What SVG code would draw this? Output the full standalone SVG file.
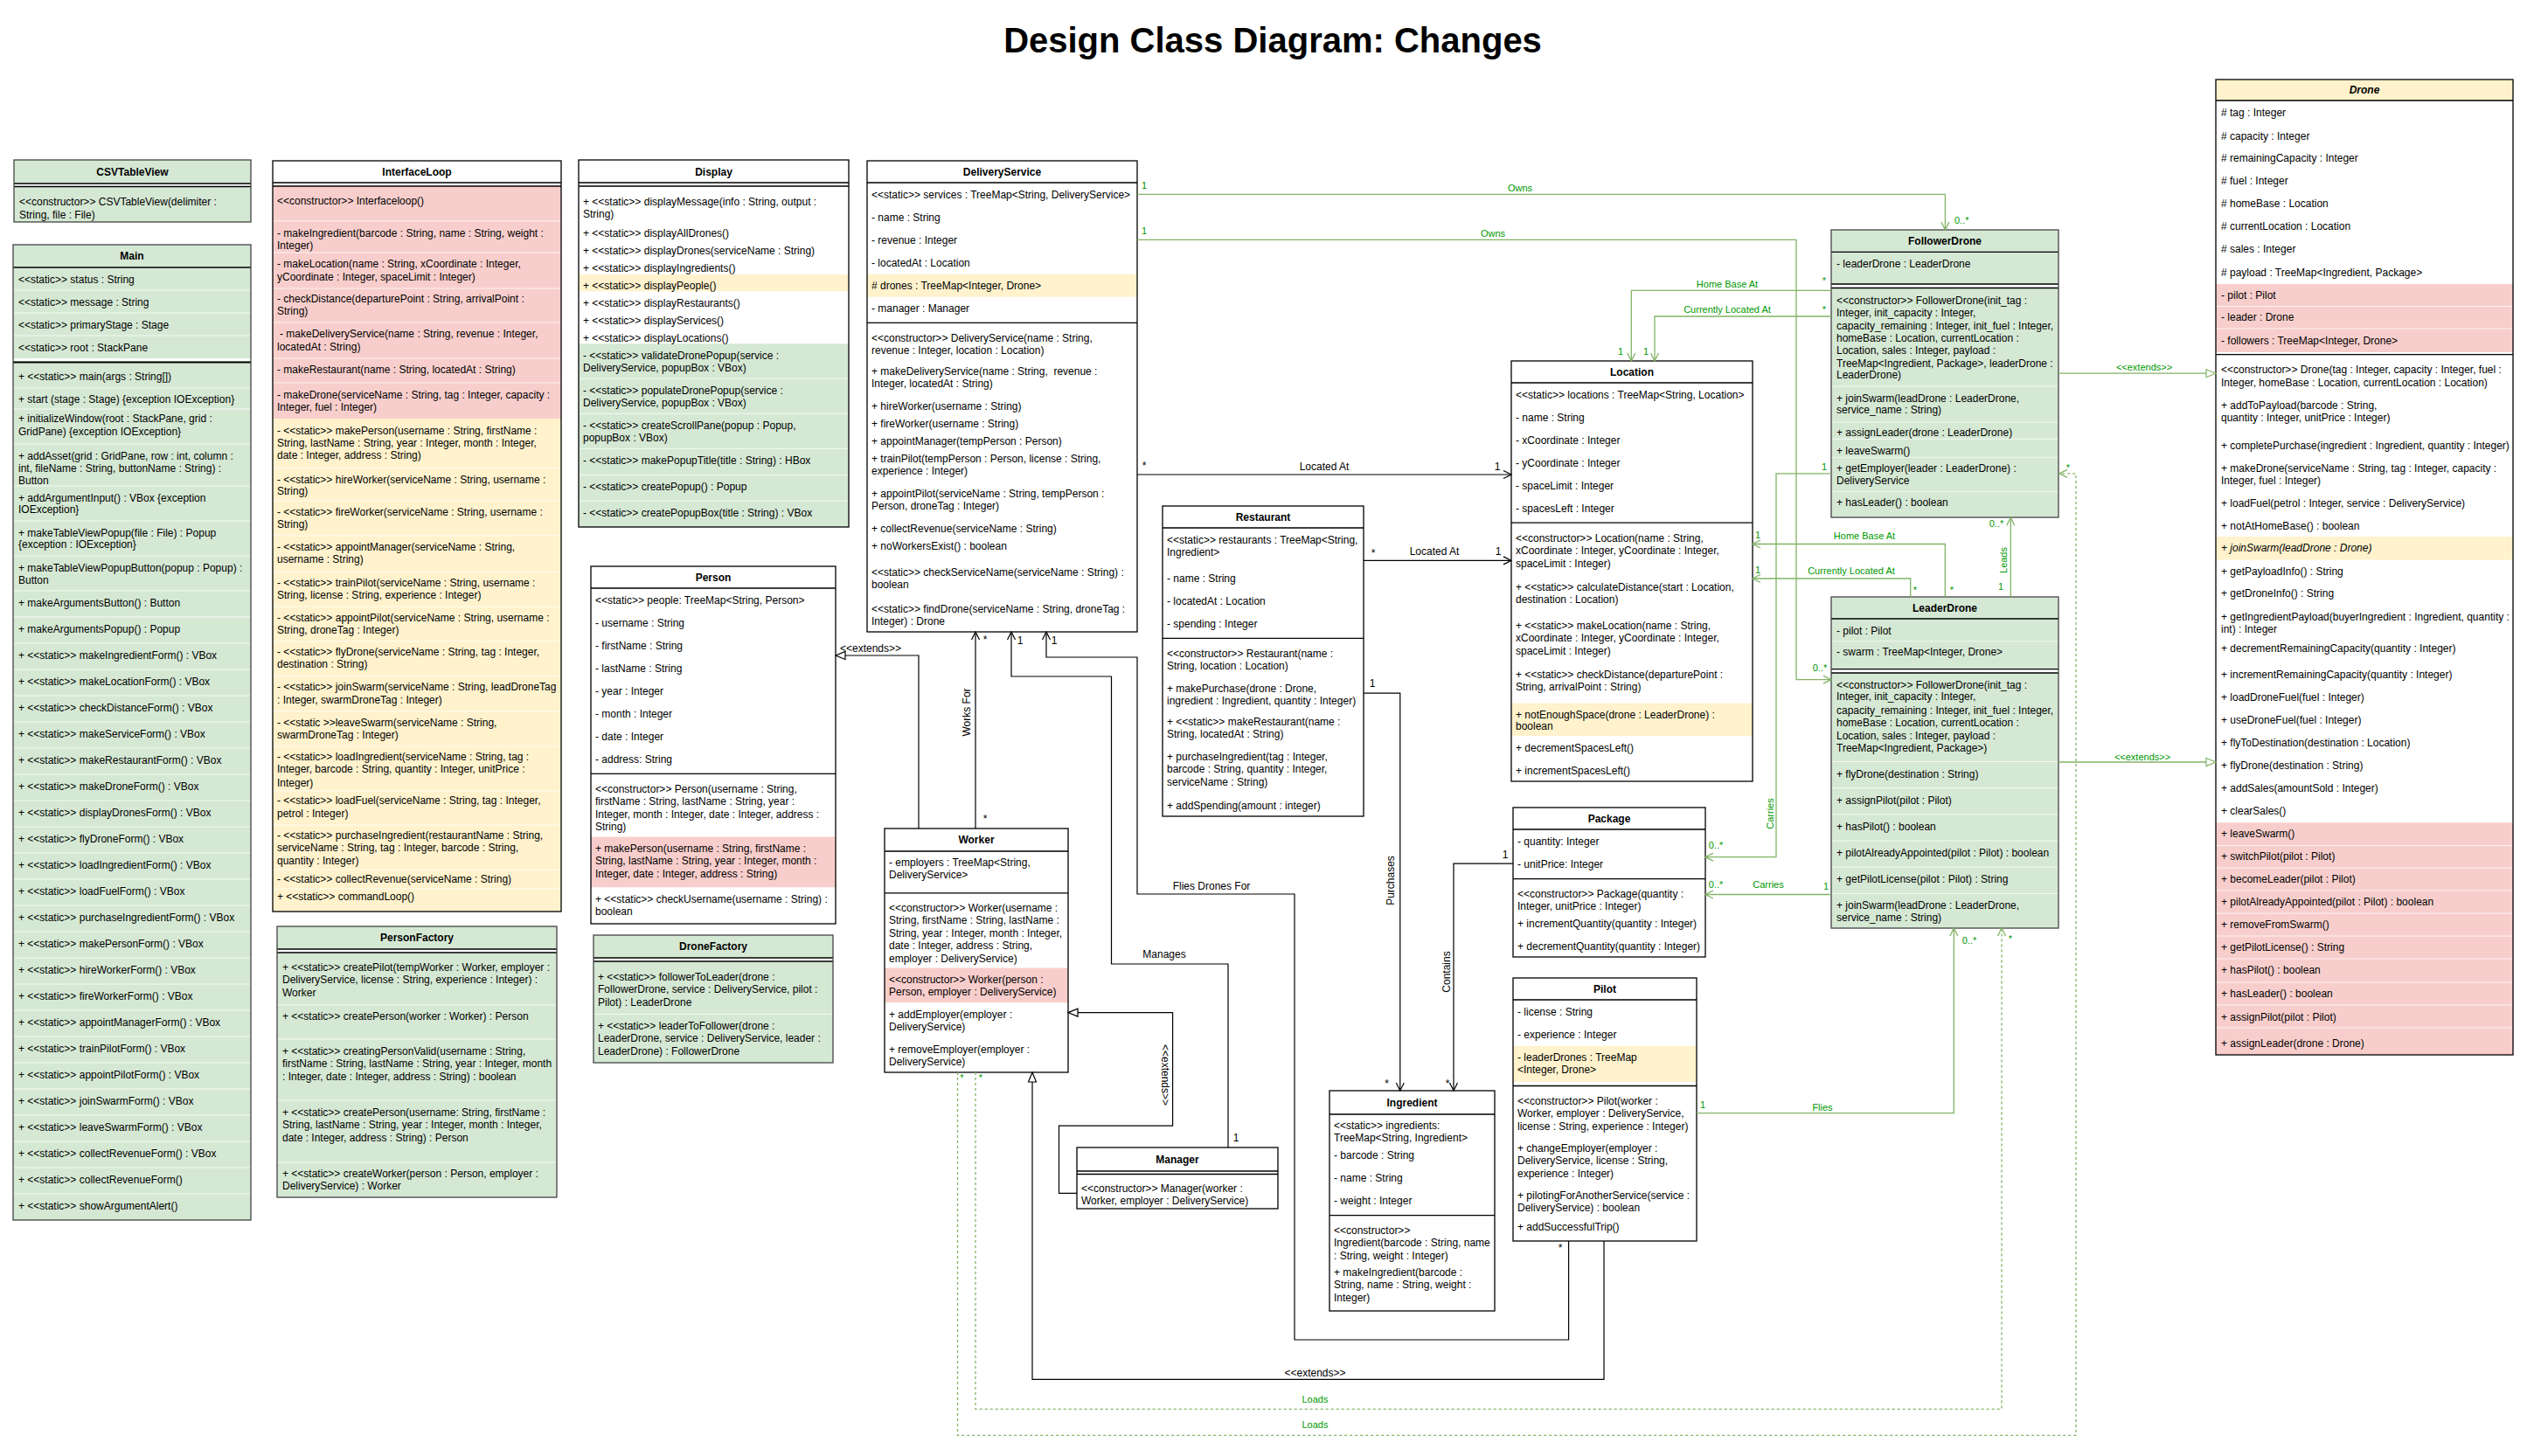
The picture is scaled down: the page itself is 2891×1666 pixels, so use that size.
<svg xmlns="http://www.w3.org/2000/svg" width="2891" height="1666" viewBox="0 0 2891 1666">
<defs>
<style>
text{font-family:"Liberation Sans",Arial,Helvetica,sans-serif;font-size:12px;fill:#000}
.h{font-weight:bold;text-anchor:middle}
.m{text-anchor:middle}
.it{font-style:italic}
.g{fill:#d5e8d4}.p{fill:#f8cecc}.y{fill:#fff2cc}.w{fill:#fff}
.bx{fill:none;stroke:#000;stroke-width:1.3}
.bg{fill:none;stroke:#444;stroke-width:1.3}
.l{stroke:#000;stroke-width:1.3;fill:none}
.s{stroke:#fff;stroke-width:1;stroke-opacity:.75;fill:none}
.gc{fill:none;stroke:#82b366;stroke-width:1.3}
.bc{fill:none;stroke:#000;stroke-width:1.2}
.d{stroke-dasharray:3 3}
.gt{fill:#009900;font-size:11px}
</style>
<marker id="ao" viewBox="0 0 12 12" refX="11" refY="6" markerWidth="12" markerHeight="12" markerUnits="userSpaceOnUse" orient="auto"><path d="M2,1.5 L11,6 L2,10.5" fill="none" stroke="#000" stroke-width="1.2"/></marker>
<marker id="ag" viewBox="0 0 12 12" refX="11" refY="6" markerWidth="12" markerHeight="12" markerUnits="userSpaceOnUse" orient="auto"><path d="M2,1.5 L11,6 L2,10.5" fill="none" stroke="#82b366" stroke-width="1.3"/></marker>
<marker id="tb" viewBox="0 0 14 14" refX="13" refY="7" markerWidth="14" markerHeight="14" markerUnits="userSpaceOnUse" orient="auto"><path d="M2,2.5 L13,7 L2,11.5 Z" fill="#fff" stroke="#000" stroke-width="1.2"/></marker>
<marker id="tg" viewBox="0 0 14 14" refX="13" refY="7" markerWidth="14" markerHeight="14" markerUnits="userSpaceOnUse" orient="auto"><path d="M2,2.5 L13,7 L2,11.5 Z" fill="#fff" stroke="#82b366" stroke-width="1.2"/></marker>
</defs>
<rect x="0" y="0" width="2891" height="1666" fill="#fff"/>
<text x="1456" y="60" style="font-size:40px;font-weight:bold" text-anchor="middle">Design Class Diagram: Changes</text>

<g id="csvtableview">
<rect class="g" x="16" y="183" width="271" height="71"/>
<rect class="w" x="16" y="210" width="271" height="3.5"/>
<path class="l" d="M16,210H287M16,213.5H287"/>
<rect class="bg" x="16" y="183" width="271" height="71"/>
<text class="h" x="151.5" y="200.5">CSVTableView</text>
<text x="22" y="235">&lt;&lt;constructor&gt;&gt; CSVTableView(delimiter :</text>
<text x="22" y="249.5">String, file : File)</text>
</g>

<g id="main">
<rect class="g" x="15" y="280" width="272" height="1116"/>
<path class="s" d="M15,332H287M15,358H287M15,384H287M15,444H287M15,468H287M15,508H287M15,556H287M15,596H287M15,636H287M15,676H287M15,706H287M15,736H287M15,766H287M15,796H287M15,826H287M15,856H287M15,886H287M15,916H287M15,946H287M15,976H287M15,1006H287M15,1036H287M15,1066H287M15,1096H287M15,1126H287M15,1156H287M15,1186H287M15,1216H287M15,1246H287M15,1276H287M15,1306H287M15,1336H287M15,1366H287"/>
<rect class="w" x="15" y="410" width="272" height="3"/>
<path class="l" d="M15,306H287"/>
<path d="M15,414.5H287" stroke="#000" stroke-width="2"/>
<rect class="bg" x="15" y="280" width="272" height="1116"/>
<text class="h" x="151" y="297">Main</text>
<text x="21" y="323.5">&lt;&lt;static&gt;&gt; status : String</text>
<text x="21" y="349.5">&lt;&lt;static&gt;&gt; message : String</text>
<text x="21" y="375.5">&lt;&lt;static&gt;&gt; primaryStage : Stage</text>
<text x="21" y="401.5">&lt;&lt;static&gt;&gt; root : StackPane</text>
<text x="21" y="435">+ &lt;&lt;static&gt;&gt; main(args : String[])</text>
<text x="21" y="461">+ start (stage : Stage) {exception IOException}</text>
<text x="21" y="483">+ initializeWindow(root : StackPane, grid :</text>
<text x="21" y="498">GridPane) {exception IOException}</text>
<text x="21" y="526">+ addAsset(grid : GridPane, row : int, column :</text>
<text x="21" y="540">int, fileName : String, buttonName : String) :</text>
<text x="21" y="554">Button</text>
<text x="21" y="574">+ addArgumentInput() : VBox {exception</text>
<text x="21" y="587">IOException}</text>
<text x="21" y="614">+ makeTableViewPopup(file : File) : Popup</text>
<text x="21" y="627">{exception : IOException}</text>
<text x="21" y="654">+ makeTableViewPopupButton(popup : Popup) :</text>
<text x="21" y="668">Button</text>
<text x="21" y="694">+ makeArgumentsButton() : Button</text>
<text x="21" y="724">+ makeArgumentsPopup() : Popup</text>
<text x="21" y="754">+ &lt;&lt;static&gt;&gt; makeIngredientForm() : VBox</text>
<text x="21" y="784">+ &lt;&lt;static&gt;&gt; makeLocationForm() : VBox</text>
<text x="21" y="814">+ &lt;&lt;static&gt;&gt; checkDistanceForm() : VBox</text>
<text x="21" y="844">+ &lt;&lt;static&gt;&gt; makeServiceForm() : VBox</text>
<text x="21" y="874">+ &lt;&lt;static&gt;&gt; makeRestaurantForm() : VBox</text>
<text x="21" y="904">+ &lt;&lt;static&gt;&gt; makeDroneForm() : VBox</text>
<text x="21" y="934">+ &lt;&lt;static&gt;&gt; displayDronesForm() : VBox</text>
<text x="21" y="964">+ &lt;&lt;static&gt;&gt; flyDroneForm() : VBox</text>
<text x="21" y="994">+ &lt;&lt;static&gt;&gt; loadIngredientForm() : VBox</text>
<text x="21" y="1024">+ &lt;&lt;static&gt;&gt; loadFuelForm() : VBox</text>
<text x="21" y="1054">+ &lt;&lt;static&gt;&gt; purchaseIngredientForm() : VBox</text>
<text x="21" y="1084">+ &lt;&lt;static&gt;&gt; makePersonForm() : VBox</text>
<text x="21" y="1114">+ &lt;&lt;static&gt;&gt; hireWorkerForm() : VBox</text>
<text x="21" y="1144">+ &lt;&lt;static&gt;&gt; fireWorkerForm() : VBox</text>
<text x="21" y="1174">+ &lt;&lt;static&gt;&gt; appointManagerForm() : VBox</text>
<text x="21" y="1204">+ &lt;&lt;static&gt;&gt; trainPilotForm() : VBox</text>
<text x="21" y="1234">+ &lt;&lt;static&gt;&gt; appointPilotForm() : VBox</text>
<text x="21" y="1264">+ &lt;&lt;static&gt;&gt; joinSwarmForm() : VBox</text>
<text x="21" y="1294">+ &lt;&lt;static&gt;&gt; leaveSwarmForm() : VBox</text>
<text x="21" y="1324">+ &lt;&lt;static&gt;&gt; collectRevenueForm() : VBox</text>
<text x="21" y="1354">+ &lt;&lt;static&gt;&gt; collectRevenueForm()</text>
<text x="21" y="1384">+ &lt;&lt;static&gt;&gt; showArgumentAlert()</text>
</g>

<g id="interfaceloop">
<rect class="w" x="312" y="184" width="330" height="29"/>
<rect class="p" x="312" y="213" width="330" height="266"/>
<rect class="y" x="312" y="479" width="330" height="564"/>
<path class="s" d="M312,253H642M312,289H642M312,330H642M312,369H642M312,410H642M312,438H642M312,535H642M312,573H642M312,613H642M312,654H642M312,694H642M312,734H642M312,773H642M312,814H642M312,854H642M312,905H642M312,944H642M312,995H642M312,1017H642"/>
<path class="l" d="M312,209H642M312,213H642"/>
<rect class="bx" x="312" y="184" width="330" height="859"/>
<text class="h" x="477" y="200.5">InterfaceLoop</text>
<text x="317" y="234">&lt;&lt;constructor&gt;&gt; Interfaceloop()</text>
<text x="317" y="270.5">- makeIngredient(barcode : String, name : String, weight :</text>
<text x="317" y="284.5">Integer)</text>
<text x="317" y="306.4">- makeLocation(name : String, xCoordinate : Integer,</text>
<text x="317" y="320.5">yCoordinate : Integer, spaceLimit : Integer)</text>
<text x="317" y="346">- checkDistance(departurePoint : String, arrivalPoint :</text>
<text x="317" y="360">String)</text>
<text x="320" y="386">- makeDeliveryService(name : String, revenue : Integer,</text>
<text x="317" y="401">locatedAt : String)</text>
<text x="317" y="426.5">- makeRestaurant(name : String, locatedAt : String)</text>
<text x="317" y="456">- makeDrone(serviceName : String, tag : Integer, capacity :</text>
<text x="317" y="470">Integer, fuel : Integer)</text>
<text x="317" y="496.7">- &lt;&lt;static&gt;&gt; makePerson(username : String, firstName :</text>
<text x="317" y="510.7">String, lastName : String, year : Integer, month : Integer,</text>
<text x="317" y="525.3">date : Integer, address : String)</text>
<text x="317" y="552.8">- &lt;&lt;static&gt;&gt; hireWorker(serviceName : String, username :</text>
<text x="317" y="566">String)</text>
<text x="317" y="590">- &lt;&lt;static&gt;&gt; fireWorker(serviceName : String, username :</text>
<text x="317" y="604">String)</text>
<text x="317" y="630">- &lt;&lt;static&gt;&gt; appointManager(serviceName : String,</text>
<text x="317" y="644">username : String)</text>
<text x="317" y="670.6">- &lt;&lt;static&gt;&gt; trainPilot(serviceName : String, username :</text>
<text x="317" y="684.7">String, license : String, experience : Integer)</text>
<text x="317" y="710.5">- &lt;&lt;static&gt;&gt; appointPilot(serviceName : String, username :</text>
<text x="317" y="724.5">String, droneTag : Integer)</text>
<text x="317" y="750">- &lt;&lt;static&gt;&gt; flyDrone(serviceName : String, tag : Integer,</text>
<text x="317" y="764">destination : String)</text>
<text x="317" y="790">- &lt;&lt;static&gt;&gt; joinSwarm(serviceName : String, leadDroneTag</text>
<text x="317" y="805">: Integer, swarmDroneTag : Integer)</text>
<text x="317" y="830.6">- &lt;&lt;static &gt;&gt;leaveSwarm(serviceName : String,</text>
<text x="317" y="844.6">swarmDroneTag : Integer)</text>
<text x="317" y="870">- &lt;&lt;static&gt;&gt; loadIngredient(serviceName : String, tag :</text>
<text x="317" y="884">Integer, barcode : String, quantity : Integer, unitPrice :</text>
<text x="317" y="899.6">Integer)</text>
<text x="317" y="920">- &lt;&lt;static&gt;&gt; loadFuel(serviceName : String, tag : Integer,</text>
<text x="317" y="935">petrol : Integer)</text>
<text x="317" y="960">- &lt;&lt;static&gt;&gt; purchaseIngredient(restaurantName : String,</text>
<text x="317" y="974">serviceName : String, tag : Integer, barcode : String,</text>
<text x="317" y="989">quantity : Integer)</text>
<text x="317" y="1010">- &lt;&lt;static&gt;&gt; collectRevenue(serviceName : String)</text>
<text x="317" y="1030">+ &lt;&lt;static&gt;&gt; commandLoop()</text>
</g>

<g id="personfactory">
<rect class="g" x="317" y="1060" width="320" height="310"/>
<rect class="w" x="317" y="1086" width="320" height="4"/>
<path class="s" d="M317,1150H637M317,1189H637M317,1259H637M317,1330H637"/>
<path class="l" d="M317,1086H637M317,1090H637"/>
<rect class="bg" x="317" y="1060" width="320" height="310"/>
<text class="h" x="477" y="1077">PersonFactory</text>
<text x="323" y="1110.7">+ &lt;&lt;static&gt;&gt; createPilot(tempWorker : Worker, employer :</text>
<text x="323" y="1124.9">DeliveryService, license : String, experience : Integer) :</text>
<text x="323" y="1139.5">Worker</text>
<text x="323" y="1167">+ &lt;&lt;static&gt;&gt; createPerson(worker : Worker) : Person</text>
<text x="323" y="1207">+ &lt;&lt;static&gt;&gt; creatingPersonValid(username : String,</text>
<text x="323" y="1221">firstName : String, lastName : String, year : Integer, month</text>
<text x="323" y="1235.8">: Integer, date : Integer, address : String) : boolean</text>
<text x="323" y="1277">+ &lt;&lt;static&gt;&gt; createPerson(username: String, firstName :</text>
<text x="323" y="1291">String, lastName : String, year : Integer, month : Integer,</text>
<text x="323" y="1305.6">date : Integer, address : String) : Person</text>
<text x="323" y="1346.7">+ &lt;&lt;static&gt;&gt; createWorker(person : Person, employer :</text>
<text x="323" y="1360.8">DeliveryService) : Worker</text>
</g>

<g id="display">
<rect class="w" x="662" y="183" width="309" height="210"/>
<rect class="y" x="662" y="314" width="309" height="19.3"/>
<rect class="g" x="662" y="393.3" width="309" height="209.7"/>
<path class="s" d="M662,433.3H971M662,473.3H971M662,513.3H971M662,543.3H971M662,573.3H971"/>
<path class="l" d="M662,209H971M662,213H971"/>
<rect class="bx" x="662" y="183" width="309" height="420"/>
<text class="h" x="816.5" y="200.5">Display</text>
<text x="667" y="235">+ &lt;&lt;static&gt;&gt; displayMessage(info : String, output :</text>
<text x="667" y="249">String)</text>
<text x="667" y="271">+ &lt;&lt;static&gt;&gt; displayAllDrones()</text>
<text x="667" y="291">+ &lt;&lt;static&gt;&gt; displayDrones(serviceName : String)</text>
<text x="667" y="310.7">+ &lt;&lt;static&gt;&gt; displayIngredients()</text>
<text x="667" y="330.7">+ &lt;&lt;static&gt;&gt; displayPeople()</text>
<text x="667" y="350.7">+ &lt;&lt;static&gt;&gt; displayRestaurants()</text>
<text x="667" y="370.7">+ &lt;&lt;static&gt;&gt; displayServices()</text>
<text x="667" y="390.7">+ &lt;&lt;static&gt;&gt; displayLocations()</text>
<text x="667" y="411">- &lt;&lt;static&gt;&gt; validateDronePopup(service :</text>
<text x="667" y="424.7">DeliveryService, popupBox : VBox)</text>
<text x="667" y="451">- &lt;&lt;static&gt;&gt; populateDronePopup(service :</text>
<text x="667" y="464.7">DeliveryService, popupBox : VBox)</text>
<text x="667" y="490.7">- &lt;&lt;static&gt;&gt; createScrollPane(popup : Popup,</text>
<text x="667" y="505">popupBox : VBox)</text>
<text x="667" y="530.7">- &lt;&lt;static&gt;&gt; makePopupTitle(title : String) : HBox</text>
<text x="667" y="560.7">- &lt;&lt;static&gt;&gt; createPopup() : Popup</text>
<text x="667" y="590.7">- &lt;&lt;static&gt;&gt; createPopupBox(title : String) : VBox</text>
</g>

<g id="deliveryservice">
<rect class="w" x="992" y="184" width="309" height="539"/>
<rect class="y" x="992" y="313.6" width="309" height="26"/>
<path class="l" d="M992,209H1301M992,369.3H1301"/>
<rect class="bx" x="992" y="184" width="309" height="539"/>
<text class="h" x="1146.5" y="200.5">DeliveryService</text>
<text x="997" y="226.9">&lt;&lt;static&gt;&gt; services : TreeMap&lt;String, DeliveryService&gt;</text>
<text x="997" y="252.6">- name : String</text>
<text x="997" y="278.6">- revenue : Integer</text>
<text x="997" y="304.7">- locatedAt : Location</text>
<text x="997" y="330.8"># drones : TreeMap&lt;Integer, Drone&gt;</text>
<text x="997" y="356.9">- manager : Manager</text>
<text x="997" y="390.8">&lt;&lt;constructor&gt;&gt; DeliveryService(name : String,</text>
<text x="997" y="404.7">revenue : Integer, location : Location)</text>
<text x="997" y="428.6" xml:space="preserve">+ makeDeliveryService(name : String,  revenue :</text>
<text x="997" y="442.6">Integer, locatedAt : String)</text>
<text x="997" y="469">+ hireWorker(username : String)</text>
<text x="997" y="489">+ fireWorker(username : String)</text>
<text x="997" y="509">+ appointManager(tempPerson : Person)</text>
<text x="997" y="528.6">+ trainPilot(tempPerson : Person, license : String,</text>
<text x="997" y="542.6">experience : Integer)</text>
<text x="997" y="568.6">+ appointPilot(serviceName : String, tempPerson :</text>
<text x="997" y="582.6">Person, droneTag : Integer)</text>
<text x="997" y="608.6">+ collectRevenue(serviceName : String)</text>
<text x="997" y="628.6">+ noWorkersExist() : boolean</text>
<text x="997" y="658.6">&lt;&lt;static&gt;&gt; checkServiceName(serviceName : String) :</text>
<text x="997" y="672.6">boolean</text>
<text x="997" y="700.8">&lt;&lt;static&gt;&gt; findDrone(serviceName : String, droneTag :</text>
<text x="997" y="714.7">Integer) : Drone</text>
</g>

<g id="person">
<rect class="w" x="676" y="648" width="280" height="409"/>
<rect class="p" x="676" y="957.6" width="280" height="57.6"/>
<path class="l" d="M676,673H956M676,885.4H956"/>
<rect class="bx" x="676" y="648" width="280" height="409"/>
<text class="h" x="816" y="664.5">Person</text>
<text x="681" y="690.7">&lt;&lt;static&gt;&gt; people: TreeMap&lt;String, Person&gt;</text>
<text x="681" y="716.7">- username : String</text>
<text x="681" y="742.6">- firstName : String</text>
<text x="681" y="768.6">- lastName : String</text>
<text x="681" y="794.5">- year : Integer</text>
<text x="681" y="820.5">- month : Integer</text>
<text x="681" y="846.5">- date : Integer</text>
<text x="681" y="872.9">- address: String</text>
<text x="681" y="906.9">&lt;&lt;constructor&gt;&gt; Person(username : String,</text>
<text x="681" y="921">firstName : String, lastName : String, year :</text>
<text x="681" y="935.6">Integer, month : Integer, date : Integer, address :</text>
<text x="681" y="949.8">String)</text>
<text x="681" y="974.8">+ makePerson(username : String, firstName :</text>
<text x="681" y="989">String, lastName : String, year : Integer, month :</text>
<text x="681" y="1003.6">Integer, date : Integer, address : String)</text>
<text x="681" y="1032.9">+ &lt;&lt;static&gt;&gt; checkUsername(username : String) :</text>
<text x="681" y="1046.5">boolean</text>
</g>

<g id="dronefactory">
<rect class="g" x="679" y="1070" width="274" height="146"/>
<rect class="w" x="679" y="1096" width="274" height="4"/>
<path class="s" d="M679,1160.5H953"/>
<path class="l" d="M679,1096H953M679,1100H953"/>
<rect class="bg" x="679" y="1070" width="274" height="146"/>
<text class="h" x="816" y="1087">DroneFactory</text>
<text x="684" y="1121.6">+ &lt;&lt;static&gt;&gt; followerToLeader(drone :</text>
<text x="684" y="1135.7">FollowerDrone, service : DeliveryService, pilot :</text>
<text x="684" y="1150.8">Pilot) : LeaderDrone</text>
<text x="684" y="1177.7">+ &lt;&lt;static&gt;&gt; leaderToFollower(drone :</text>
<text x="684" y="1191.9">LeaderDrone, service : DeliveryService, leader :</text>
<text x="684" y="1206.5">LeaderDrone) : FollowerDrone</text>
</g>

<g id="worker">
<rect class="w" x="1012" y="948" width="210" height="279"/>
<rect class="p" x="1012" y="1107.5" width="210" height="39.6"/>
<path class="l" d="M1012,974H1222M1012,1021.8H1222"/>
<rect class="bx" x="1012" y="948" width="210" height="279"/>
<text class="h" x="1117" y="965">Worker</text>
<text x="1017" y="991.1">- employers : TreeMap&lt;String,</text>
<text x="1017" y="1005.1">DeliveryService&gt;</text>
<text x="1017" y="1042.9">&lt;&lt;constructor&gt;&gt; Worker(username :</text>
<text x="1017" y="1057.2">String, firstName : String, lastName :</text>
<text x="1017" y="1071.9">String, year : Integer, month : Integer,</text>
<text x="1017" y="1086.1">date : Integer, address : String,</text>
<text x="1017" y="1100.8">employer : DeliveryService)</text>
<text x="1017" y="1125">&lt;&lt;constructor&gt;&gt; Worker(person :</text>
<text x="1017" y="1138.6">Person, employer : DeliveryService)</text>
<text x="1017" y="1165">+ addEmployer(employer :</text>
<text x="1017" y="1178.6">DeliveryService)</text>
<text x="1017" y="1205">+ removeEmployer(employer :</text>
<text x="1017" y="1219">DeliveryService)</text>
</g>

<g id="manager">
<rect class="w" x="1232" y="1313" width="230" height="70"/>
<path class="l" d="M1232,1340H1462M1232,1343.5H1462"/>
<rect class="bx" x="1232" y="1313" width="230" height="70"/>
<text class="h" x="1347" y="1330.5">Manager</text>
<text x="1237" y="1364.4">&lt;&lt;constructor&gt;&gt; Manager(worker :</text>
<text x="1237" y="1378">Worker, employer : DeliveryService)</text>
</g>

<g id="restaurant">
<rect class="w" x="1330" y="579" width="230" height="355"/>
<path class="l" d="M1330,604H1560M1330,730.4H1560"/>
<rect class="bx" x="1330" y="579" width="230" height="355"/>
<text class="h" x="1445" y="595.5">Restaurant</text>
<text x="1335" y="621.9">&lt;&lt;static&gt;&gt; restaurants : TreeMap&lt;String,</text>
<text x="1335" y="636.1">Ingredient&gt;</text>
<text x="1335" y="665.8">- name : String</text>
<text x="1335" y="691.9">- locatedAt : Location</text>
<text x="1335" y="717.9">- spending : Integer</text>
<text x="1335" y="751.9">&lt;&lt;constructor&gt;&gt; Restaurant(name :</text>
<text x="1335" y="765.8">String, location : Location)</text>
<text x="1335" y="791.9">+ makePurchase(drone : Drone,</text>
<text x="1335" y="805.8">ingredient : Ingredient, quantity : Integer)</text>
<text x="1335" y="830">+ &lt;&lt;static&gt;&gt; makeRestaurant(name :</text>
<text x="1335" y="843.6">String, locatedAt : String)</text>
<text x="1335" y="870">+ purchaseIngredient(tag : Integer,</text>
<text x="1335" y="884">barcode : String, quantity : Integer,</text>
<text x="1335" y="899">serviceName : String)</text>
<text x="1335" y="925.8">+ addSpending(amount : integer)</text>
</g>

<g id="location">
<rect class="w" x="1729" y="413" width="276" height="481"/>
<rect class="y" x="1729" y="804.6" width="276" height="37.5"/>
<path class="l" d="M1729,438H2005M1729,598.2H2005"/>
<rect class="bx" x="1729" y="413" width="276" height="481"/>
<text class="h" x="1867" y="429.5">Location</text>
<text x="1734" y="456.1">&lt;&lt;static&gt;&gt; locations : TreeMap&lt;String, Location&gt;</text>
<text x="1734" y="481.9">- name : String</text>
<text x="1734" y="507.9">- xCoordinate : Integer</text>
<text x="1734" y="533.6">- yCoordinate : Integer</text>
<text x="1734" y="559.7">- spaceLimit : Integer</text>
<text x="1734" y="585.8">- spacesLeft : Integer</text>
<text x="1734" y="619.7">&lt;&lt;constructor&gt;&gt; Location(name : String,</text>
<text x="1734" y="633.6">xCoordinate : Integer, yCoordinate : Integer,</text>
<text x="1734" y="648.6">spaceLimit : Integer)</text>
<text x="1734" y="675.8">+ &lt;&lt;static&gt;&gt; calculateDistance(start : Location,</text>
<text x="1734" y="689.7">destination : Location)</text>
<text x="1734" y="719.7">+ &lt;&lt;static&gt;&gt; makeLocation(name : String,</text>
<text x="1734" y="733.6">xCoordinate : Integer, yCoordinate : Integer,</text>
<text x="1734" y="748.6">spaceLimit : Integer)</text>
<text x="1734" y="775.8">+ &lt;&lt;static&gt;&gt; checkDistance(departurePoint :</text>
<text x="1734" y="789.7">String, arrivalPoint : String)</text>
<text x="1734" y="821.5">+ notEnoughSpace(drone : LeaderDrone) :</text>
<text x="1734" y="835.4">boolean</text>
<text x="1734" y="859.7">+ decrementSpacesLeft()</text>
<text x="1734" y="885.8">+ incrementSpacesLeft()</text>
</g>

<g id="package">
<rect class="w" x="1731" y="924" width="220" height="171"/>
<path class="l" d="M1731,949H1951M1731,1005.7H1951"/>
<rect class="bx" x="1731" y="924" width="220" height="171"/>
<text class="h" x="1841" y="940.5">Package</text>
<text x="1736" y="966.9">- quantity: Integer</text>
<text x="1736" y="992.9">- unitPrice: Integer</text>
<text x="1736" y="1027.2">&lt;&lt;constructor&gt;&gt; Package(quantity :</text>
<text x="1736" y="1040.8">Integer, unitPrice : Integer)</text>
<text x="1736" y="1060.8">+ incrementQuantity(quantity : Integer)</text>
<text x="1736" y="1086.9">+ decrementQuantity(quantity : Integer)</text>
</g>

<g id="pilot">
<rect class="w" x="1731" y="1119" width="210" height="301"/>
<rect class="y" x="1731" y="1196.8" width="210" height="41.1"/>
<path class="l" d="M1731,1144H1941M1731,1242.5H1941"/>
<rect class="bx" x="1731" y="1119" width="210" height="301"/>
<text class="h" x="1836" y="1135.5">Pilot</text>
<text x="1736" y="1161.9">- license : String</text>
<text x="1736" y="1187.9">- experience : Integer</text>
<text x="1736" y="1214">- leaderDrones : TreeMap</text>
<text x="1736" y="1228.3">&lt;Integer, Drone&gt;</text>
<text x="1736" y="1263.6">&lt;&lt;constructor&gt;&gt; Pilot(worker :</text>
<text x="1736" y="1277.9">Worker, employer : DeliveryService,</text>
<text x="1736" y="1292.9">license : String, experience : Integer)</text>
<text x="1736" y="1318.3">+ changeEmployer(employer :</text>
<text x="1736" y="1332.2">DeliveryService, license : String,</text>
<text x="1736" y="1347.2">experience : Integer)</text>
<text x="1736" y="1371.9">+ pilotingForAnotherService(service :</text>
<text x="1736" y="1385.8">DeliveryService) : boolean</text>
<text x="1736" y="1407.9">+ addSuccessfulTrip()</text>
</g>

<g id="ingredient">
<rect class="w" x="1521" y="1248" width="189" height="252"/>
<path class="l" d="M1521,1275H1710M1521,1390.7H1710"/>
<rect class="bx" x="1521" y="1248" width="189" height="252"/>
<text class="h" x="1615.5" y="1265.5">Ingredient</text>
<text x="1526" y="1291.9">&lt;&lt;static&gt;&gt; ingredients:</text>
<text x="1526" y="1306.1">TreeMap&lt;String, Ingredient&gt;</text>
<text x="1526" y="1326.1">- barcode : String</text>
<text x="1526" y="1351.9">- name : String</text>
<text x="1526" y="1377.9">- weight : Integer</text>
<text x="1526" y="1411.9">&lt;&lt;constructor&gt;&gt;</text>
<text x="1526" y="1426.1">Ingredient(barcode : String, name</text>
<text x="1526" y="1440.8">: String, weight : Integer)</text>
<text x="1526" y="1460">+ makeIngredient(barcode :</text>
<text x="1526" y="1474">String, name : String, weight :</text>
<text x="1526" y="1488.7">Integer)</text>
</g>

<g id="followerdrone">
<rect class="g" x="2095" y="263" width="260" height="329"/>
<rect class="w" x="2095" y="325" width="260" height="4.5"/>
<path class="s" d="M2095,442H2355M2095,483H2355M2095,502.3H2355M2095,523.2H2355M2095,562.7H2355"/>
<path class="l" d="M2095,288.4H2355M2095,325H2355M2095,329.5H2355"/>
<rect class="bg" x="2095" y="263" width="260" height="329"/>
<text class="h" x="2225" y="279.5">FollowerDrone</text>
<text x="2101" y="305.6">- leaderDrone : LeaderDrone</text>
<text x="2101" y="347.8">&lt;&lt;constructor&gt;&gt; FollowerDrone(init_tag :</text>
<text x="2101" y="361.5">Integer, init_capacity : Integer,</text>
<text x="2101" y="376.9">capacity_remaining : Integer, init_fuel : Integer,</text>
<text x="2101" y="390.6">homeBase : Location, currentLocation :</text>
<text x="2101" y="405.4">Location, sales : Integer, payload :</text>
<text x="2101" y="419.7">TreeMap&lt;Ingredient, Package&gt;, leaderDrone :</text>
<text x="2101" y="433.4">LeaderDrone)</text>
<text x="2101" y="459.7">+ joinSwarm(leadDrone : LeaderDrone,</text>
<text x="2101" y="473.4">service_name : String)</text>
<text x="2101" y="499.2">+ assignLeader(drone : LeaderDrone)</text>
<text x="2101" y="519.5">+ leaveSwarm()</text>
<text x="2101" y="539.8">+ getEmployer(leader : LeaderDrone) :</text>
<text x="2101" y="553.5">DeliveryService</text>
<text x="2101" y="579.3">+ hasLeader() : boolean</text>
</g>

<g id="leaderdrone">
<rect class="g" x="2095" y="683" width="260" height="379"/>
<rect class="w" x="2095" y="765.6" width="260" height="4.4"/>
<path class="s" d="M2095,733.8H2355M2095,871.5H2355M2095,901.7H2355M2095,931.8H2355M2095,962H2355M2095,992.2H2355M2095,1022.4H2355"/>
<path class="l" d="M2095,708H2355M2095,765.6H2355M2095,770H2355"/>
<rect class="bg" x="2095" y="683" width="260" height="379"/>
<text class="h" x="2225" y="699.5">LeaderDrone</text>
<text x="2101" y="725.7">- pilot : Pilot</text>
<text x="2101" y="749.9">- swarm : TreeMap&lt;Integer, Drone&gt;</text>
<text x="2101" y="787.7">&lt;&lt;constructor&gt;&gt; FollowerDrone(init_tag :</text>
<text x="2101" y="801.4">Integer, init_capacity : Integer,</text>
<text x="2101" y="816.8">capacity_remaining : Integer, init_fuel : Integer,</text>
<text x="2101" y="830.5">homeBase : Location, currentLocation :</text>
<text x="2101" y="845.9">Location, sales : Integer, payload :</text>
<text x="2101" y="859.6">TreeMap&lt;Ingredient, Package&gt;)</text>
<text x="2101" y="889.8">+ flyDrone(destination : String)</text>
<text x="2101" y="919.9">+ assignPilot(pilot : Pilot)</text>
<text x="2101" y="949.6">+ hasPilot() : boolean</text>
<text x="2101" y="979.7">+ pilotAlreadyAppointed(pilot : Pilot) : boolean</text>
<text x="2101" y="1009.9">+ getPilotLicense(pilot : Pilot) : String</text>
<text x="2101" y="1039.5">+ joinSwarm(leadDrone : LeaderDrone,</text>
<text x="2101" y="1053.8">service_name : String)</text>
</g>

<g id="drone">
<rect class="w" x="2535" y="91" width="340" height="1116"/>
<rect class="y" x="2535" y="91" width="340" height="24"/>
<rect class="p" x="2535" y="325" width="340" height="78"/>
<rect class="y" x="2535" y="614" width="340" height="26.5"/>
<rect class="p" x="2535" y="941.3" width="340" height="265.7"/>
<path class="s" d="M2535,350.5H2875M2535,376H2875M2535,967.5H2875M2535,993H2875M2535,1019H2875M2535,1045H2875M2535,1071H2875M2535,1097H2875M2535,1124H2875M2535,1150H2875M2535,1176H2875"/>
<path class="l" d="M2535,115H2875M2535,405.7H2875"/>
<rect class="bx" x="2535" y="91" width="340" height="1116"/>
<text class="h it" x="2705" y="107">Drone</text>
<text x="2541" y="133.2"># tag : Integer</text>
<text x="2541" y="159.6"># capacity : Integer</text>
<text x="2541" y="185.2"># remainingCapacity : Integer</text>
<text x="2541" y="210.9"># fuel : Integer</text>
<text x="2541" y="237.3"># homeBase : Location</text>
<text x="2541" y="263"># currentLocation : Location</text>
<text x="2541" y="289.4"># sales : Integer</text>
<text x="2541" y="315.8"># payload : TreeMap&lt;Ingredient, Package&gt;</text>
<text x="2541" y="341.5">- pilot : Pilot</text>
<text x="2541" y="367.2">- leader : Drone</text>
<text x="2541" y="393.6">- followers : TreeMap&lt;Integer, Drone&gt;</text>
<text x="2541" y="427.4">&lt;&lt;constructor&gt;&gt; Drone(tag : Integer, capacity : Integer, fuel :</text>
<text x="2541" y="442">Integer, homeBase : Location, currentLocation : Location)</text>
<text x="2541" y="467.7">+ addToPayload(barcode : String,</text>
<text x="2541" y="481.7">quantity : Integer, unitPrice : Integer)</text>
<text x="2541" y="514">+ completePurchase(ingredient : Ingredient, quantity : Integer)</text>
<text x="2541" y="539.6">+ makeDrone(serviceName : String, tag : Integer, capacity :</text>
<text x="2541" y="554.3">Integer, fuel : Integer)</text>
<text x="2541" y="580">+ loadFuel(petrol : Integer, service : DeliveryService)</text>
<text x="2541" y="605.6">+ notAtHomeBase() : boolean</text>
<text class="it" x="2541" y="631.3">+ joinSwarm(leadDrone : Drone)</text>
<text x="2541" y="657.7">+ getPayloadInfo() : String</text>
<text x="2541" y="683.4">+ getDroneInfo() : String</text>
<text x="2541" y="709.8">+ getIngredientPayload(buyerIngredient : Ingredient, quantity :</text>
<text x="2541" y="723.8">int) : Integer</text>
<text x="2541" y="745.8">+ decrementRemainingCapacity(quantity : Integer)</text>
<text x="2541" y="775.8">+ incrementRemainingCapacity(quantity : Integer)</text>
<text x="2541" y="801.5">+ loadDroneFuel(fuel : Integer)</text>
<text x="2541" y="828">+ useDroneFuel(fuel : Integer)</text>
<text x="2541" y="853.6">+ flyToDestination(destination : Location)</text>
<text x="2541" y="880">+ flyDrone(destination : String)</text>
<text x="2541" y="905.7">+ addSales(amountSold : Integer)</text>
<text x="2541" y="932.1">+ clearSales()</text>
<text x="2541" y="957.8">+ leaveSwarm()</text>
<text x="2541" y="983.5">+ switchPilot(pilot : Pilot)</text>
<text x="2541" y="1009.9">+ becomeLeader(pilot : Pilot)</text>
<text x="2541" y="1035.6">+ pilotAlreadyAppointed(pilot : Pilot) : boolean</text>
<text x="2541" y="1062">+ removeFromSwarm()</text>
<text x="2541" y="1087.7">+ getPilotLicense() : String</text>
<text x="2541" y="1114">+ hasPilot() : boolean</text>
<text x="2541" y="1141.2">+ hasLeader() : boolean</text>
<text x="2541" y="1167.6">+ assignPilot(pilot : Pilot)</text>
<text x="2541" y="1197.7">+ assignLeader(drone : Drone)</text>
</g>

<g id="connectors">
<path class="gc" marker-end="url(#ag)" d="M1301,222.3H2225.4V263"/>
<path class="gc" marker-end="url(#ag)" d="M1301,274.3H2055V777.7H2095"/>
<path class="gc" marker-end="url(#ag)" d="M2095,332.3H1866.3V413"/>
<path class="gc" marker-end="url(#ag)" d="M2095,362H1893V413"/>
<path class="gc" marker-end="url(#ag)" d="M2225.3,683V622.5H2005"/>
<path class="gc" marker-end="url(#ag)" d="M2185.7,683V662H2005"/>
<path class="gc" marker-end="url(#ag)" d="M2300.3,683V592.3"/>
<path class="gc" marker-end="url(#tg)" d="M2355,427.2H2535"/>
<path class="gc" marker-end="url(#tg)" d="M2355,872H2535"/>
<path class="gc" marker-end="url(#ag)" d="M2095,541.8H2032V980.7H1951"/>
<path class="gc" marker-end="url(#ag)" d="M2095,1023.5H1951"/>
<path class="gc" marker-end="url(#ag)" d="M1941,1273.6H2235.3V1062"/>
<path class="gc d" marker-end="url(#ag)" d="M1116,1227V1612.3H2290V1062"/>
<path class="gc d" marker-end="url(#ag)" d="M1095.5,1227V1642.3H2375V541.8H2356"/>
<path class="bc" marker-end="url(#ao)" d="M1301,543H1729"/>
<path class="bc" marker-end="url(#ao)" d="M1560,641.4H1729"/>
<path class="bc" marker-end="url(#ao)" d="M1560,793.2H1601.8V1248"/>
<path class="bc" marker-end="url(#ao)" d="M1731,988.2H1663V1248"/>
<path class="bc" marker-end="url(#ao)" d="M1116,948V723"/>
<path class="bc" marker-end="url(#ao)" d="M1405,1313V1103H1271.5V774H1157V723"/>
<path class="bc" marker-end="url(#ao)" d="M1794.6,1420V1533H1481V1023H1301V752H1197V723"/>
<path class="bc" marker-end="url(#tb)" d="M1051,948V750H956"/>
<path class="bc" marker-end="url(#tb)" d="M1232,1365.4H1211.5V1288.2H1341.6V1158.6H1222"/>
<path class="bc" marker-end="url(#tb)" d="M1835,1420V1578.3H1181V1227"/>
<text class="gt" x="1306" y="216">1</text>
<text class="gt m" x="1739" y="219">Owns</text>
<text class="gt" x="2236" y="256">0..*</text>
<text class="gt" x="1306" y="268">1</text>
<text class="gt m" x="1708" y="271">Owns</text>
<text class="gt m" x="2082" y="768">0..*</text>
<text class="gt m" x="1976" y="329">Home Base At</text>
<text class="gt m" x="2087" y="325">*</text>
<text class="gt m" x="1854" y="406">1</text>
<text class="gt m" x="1976" y="358">Currently Located At</text>
<text class="gt m" x="2087" y="358">*</text>
<text class="gt m" x="1883" y="406">1</text>
<text class="gt m" x="2133" y="616.6">Home Base At</text>
<text class="gt m" x="2233" y="679">*</text>
<text class="gt m" x="2011" y="616">1</text>
<text class="gt m" x="2118" y="656.6">Currently Located At</text>
<text class="gt m" x="2191" y="679">*</text>
<text class="gt m" x="2011" y="656">1</text>
<text class="gt m" x="2284" y="603.4">0..*</text>
<text class="gt m" x="2289" y="674.7">1</text>
<text class="gt m" transform="translate(2296,641) rotate(-90)">Leads</text>
<text class="gt m" x="2453" y="424">&lt;&lt;extends&gt;&gt;</text>
<text class="gt m" x="2451" y="869.5">&lt;&lt;extends&gt;&gt;</text>
<text class="gt m" x="2087" y="537.6">1</text>
<text class="gt m" transform="translate(2029,931) rotate(-90)">Carries</text>
<text class="gt m" x="1963" y="971">0..*</text>
<text class="gt m" x="2089" y="1017.6">1</text>
<text class="gt m" x="2023" y="1016">Carries</text>
<text class="gt m" x="1963" y="1016">0..*</text>
<text class="gt m" x="1948" y="1267.6">1</text>
<text class="gt m" x="2085" y="1271">Flies</text>
<text class="gt m" x="2253" y="1079.6">0..*</text>
<text class="gt m" x="2300" y="1078">*</text>
<text class="gt m" x="1504.5" y="1604.7">Loads</text>
<text class="gt m" x="1504.5" y="1634.3">Loads</text>
<text class="gt m" x="2366" y="539">*</text>
<text class="gt m" x="1100.5" y="1237">*</text>
<text class="gt m" x="1122" y="1237">*</text>
<text class="m" x="1309" y="537">*</text>
<text class="m" x="1515" y="538">Located At</text>
<text class="m" x="1713" y="538">1</text>
<text class="m" x="1571" y="637">*</text>
<text class="m" x="1641" y="635">Located At</text>
<text class="m" x="1714" y="635">1</text>
<text class="m" x="1570" y="786">1</text>
<text class="m" transform="translate(1595,1007.5) rotate(-90)">Purchases</text>
<text class="m" x="1586.5" y="1244">*</text>
<text class="m" x="1722" y="982">1</text>
<text class="m" transform="translate(1659,1112) rotate(-90)">Contains</text>
<text class="m" x="1656" y="1244">*</text>
<text class="m" x="1127" y="941">*</text>
<text class="m" x="1127" y="736">*</text>
<text class="m" transform="translate(1110,815) rotate(-90)">Works For</text>
<text class="m" x="1167" y="737">1</text>
<text class="m" x="1206" y="737">1</text>
<text class="m" x="1414" y="1306">1</text>
<text class="m" x="1332" y="1096">Manages</text>
<text class="m" x="1785" y="1432">*</text>
<text class="m" x="1386" y="1018">Flies Drones For</text>
<text class="m" x="996" y="746">&lt;&lt;extends&gt;&gt;</text>
<text class="m" transform="translate(1329,1230) rotate(90)">&lt;&lt;extends&gt;&gt;</text>
<text class="m" x="1504.5" y="1575">&lt;&lt;extends&gt;&gt;</text>
</g>
</svg>
